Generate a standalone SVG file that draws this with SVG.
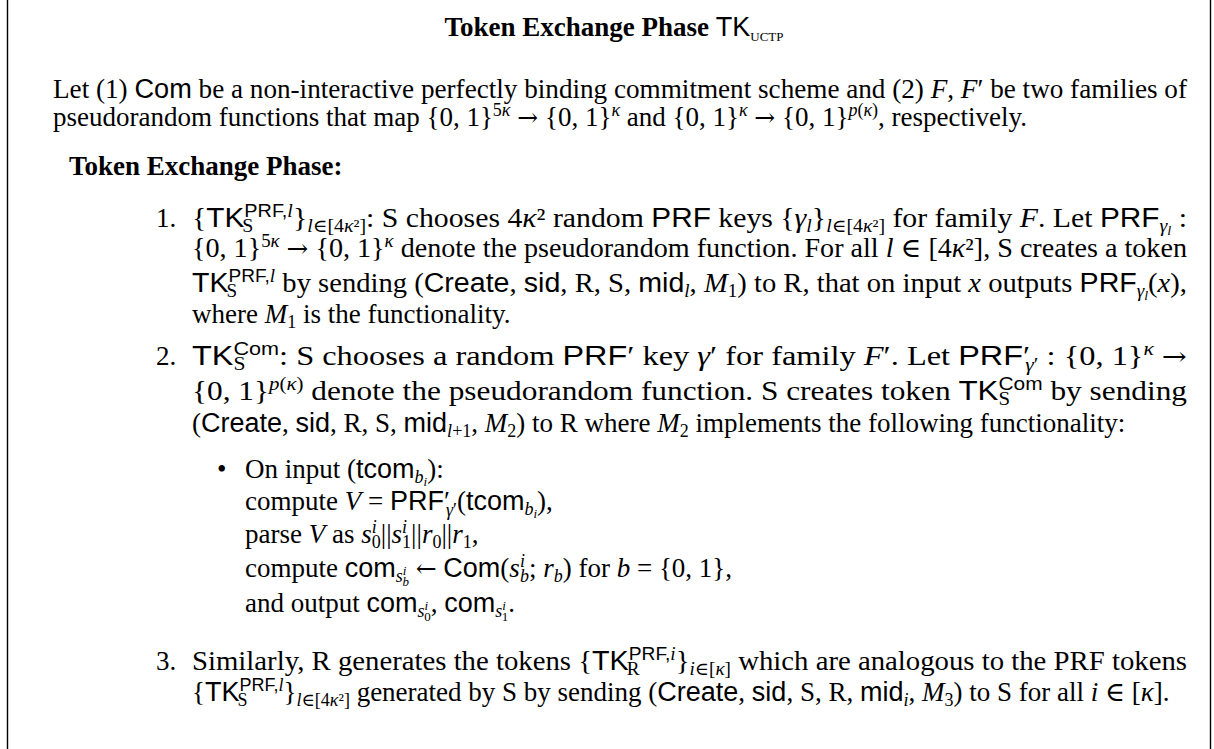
<svg xmlns="http://www.w3.org/2000/svg" width="1214" height="749" viewBox="0 0 1214 749">
  <style>
    .m { font-family: 'Liberation Serif', 'DejaVu Serif', serif; font-size: 27px; fill: #000; }
    .sf { font-family: 'Liberation Sans', 'DejaVu Sans', sans-serif; }
    .ar { font-family: 'DejaVu Serif', serif; font-size: 25px; }
    .i { font-style: italic; }
    .s { font-size: 18px; }
    .ss { font-size: 13px; }
    .sc { font-size: 13px; }
    .bd { font-weight: bold; }
    .frame { stroke: #000; stroke-width: 1.4; }
  </style>

  <!-- side rules of the framed box -->
  <g id="frame">
    <line class="frame" x1="7.5" y1="0" x2="7.5" y2="749"/>
    <line class="frame" x1="1210.5" y1="0" x2="1210.5" y2="749"/>
  </g>

  <g id="title">
    <text class="m" x="614" y="36" text-anchor="middle"><tspan class="bd">Token Exchange Phase</tspan> <tspan class="sf">TK</tspan><tspan class="sc" dy="5">UCTP</tspan></text>
  </g>

  <g id="intro">
    <text class="m" x="53" y="98" textLength="1134" lengthAdjust="spacingAndGlyphs">Let (1) <tspan class="sf">Com</tspan> be a non-interactive perfectly binding commitment scheme and (2) <tspan class="i">F</tspan>, <tspan class="i">F</tspan>′ be two families of</text>
    <text class="m" x="53" y="126">pseudorandom functions that map {0, 1}<tspan class="s" dy="-10">5<tspan class="i">κ</tspan></tspan><tspan dy="10"> <tspan class="ar">→</tspan> {0, 1}</tspan><tspan class="s i" dy="-10">κ</tspan><tspan dy="10"> and {0, 1}</tspan><tspan class="s i" dy="-10">κ</tspan><tspan dy="10"> <tspan class="ar">→</tspan> {0, 1}</tspan><tspan class="s" dy="-10"><tspan class="i">p</tspan>(<tspan class="i">κ</tspan>)</tspan><tspan dy="10">, respectively.</tspan></text>
  </g>

  <g id="heading">
    <text class="m bd" x="69" y="175">Token Exchange Phase:</text>
  </g>

  <!-- step 1: PRF tokens created by S -->
  <g id="item1">
    <text class="m" x="156" y="227">1.</text>
    <text class="m" x="192" y="227" textLength="995" lengthAdjust="spacingAndGlyphs">{<tspan class="sf">TK</tspan><tspan class="s" dy="-10"><tspan class="sf">PRF,</tspan><tspan class="i">l</tspan></tspan><tspan class="s" dx="-46" dy="15">S</tspan><tspan dx="36" dy="-5">}</tspan><tspan class="s" dy="5"><tspan class="i">l</tspan>∈[4<tspan class="i">κ</tspan>²]</tspan><tspan dy="-5">: S chooses 4<tspan class="i">κ</tspan>² random <tspan class="sf">PRF</tspan> keys {<tspan class="i">γ</tspan></tspan><tspan class="s i" dy="5">l</tspan><tspan dy="-5">}</tspan><tspan class="s" dy="5"><tspan class="i">l</tspan>∈[4<tspan class="i">κ</tspan>²]</tspan><tspan dy="-5"> for family <tspan class="i">F</tspan>. Let <tspan class="sf">PRF</tspan></tspan><tspan class="s i" dy="5">γ</tspan><tspan class="ss i" dy="3">l</tspan><tspan dy="-8"> :</tspan></text>
    <text class="m" x="192" y="257" textLength="995" lengthAdjust="spacingAndGlyphs">{0, 1}<tspan class="s" dy="-10">5<tspan class="i">κ</tspan></tspan><tspan dy="10"> <tspan class="ar">→</tspan> {0, 1}</tspan><tspan class="s i" dy="-10">κ</tspan><tspan dy="10"> denote the pseudorandom function. For all <tspan class="i">l</tspan> ∈ [4<tspan class="i">κ</tspan>²], S creates a token</tspan></text>
    <text class="m" x="192" y="292" textLength="995" lengthAdjust="spacingAndGlyphs"><tspan class="sf">TK</tspan><tspan class="s" dy="-10"><tspan class="sf">PRF,</tspan><tspan class="i">l</tspan></tspan><tspan class="s" dx="-46" dy="15">S</tspan><tspan dx="36" dy="-5"> by sending (<tspan class="sf">Create</tspan>, <tspan class="sf">sid</tspan>, R, S, <tspan class="sf">mid</tspan></tspan><tspan class="s i" dy="5">l</tspan><tspan dy="-5">, <tspan class="i">M</tspan></tspan><tspan class="s" dy="5">1</tspan><tspan dy="-5">) to R, that on input <tspan class="i">x</tspan> outputs <tspan class="sf">PRF</tspan></tspan><tspan class="s i" dy="5">γ</tspan><tspan class="ss i" dy="3">l</tspan><tspan dy="-8">(<tspan class="i">x</tspan>),</tspan></text>
    <text class="m" x="192" y="323">where <tspan class="i">M</tspan><tspan class="s" dy="5">1</tspan><tspan dy="-5"> is the functionality.</tspan></text>
  </g>

  <!-- step 2: commitment token -->
  <g id="item2">
    <text class="m" x="156" y="365">2.</text>
    <text class="m" x="192" y="365" textLength="995" lengthAdjust="spacingAndGlyphs"><tspan class="sf">TK</tspan><tspan class="s sf" dy="-10">Com</tspan><tspan class="s" dx="-38" dy="15">S</tspan><tspan dx="28" dy="-5">:  S chooses a random <tspan class="sf">PRF</tspan>′ key <tspan class="i">γ</tspan>′ for family <tspan class="i">F</tspan>′.  Let <tspan class="sf">PRF</tspan>′</tspan><tspan class="s" dx="-4" dy="6"><tspan class="i">γ</tspan>′</tspan><tspan dy="-6"> : {0, 1}</tspan><tspan class="s i" dy="-10">κ</tspan><tspan dy="10"> <tspan class="ar">→</tspan></tspan></text>
    <text class="m" x="192" y="400" textLength="995" lengthAdjust="spacingAndGlyphs">{0, 1}<tspan class="s" dy="-10"><tspan class="i">p</tspan>(<tspan class="i">κ</tspan>)</tspan><tspan dy="10"> denote the pseudorandom function.  S creates token <tspan class="sf">TK</tspan></tspan><tspan class="s sf" dy="-10">Com</tspan><tspan class="s" dx="-38" dy="15">S</tspan><tspan dx="28" dy="-5"> by sending</tspan></text>
    <text class="m" x="192" y="432">(<tspan class="sf">Create</tspan>, <tspan class="sf">sid</tspan>, R, S, <tspan class="sf">mid</tspan><tspan class="s" dy="5"><tspan class="i">l</tspan>+1</tspan><tspan dy="-5">, <tspan class="i">M</tspan></tspan><tspan class="s" dy="5">2</tspan><tspan dy="-5">) to R where <tspan class="i">M</tspan></tspan><tspan class="s" dy="5">2</tspan><tspan dy="-5"> implements the following functionality:</tspan></text>
  </g>

  <!-- functionality M2 -->
  <g id="bullet">
    <text class="m" x="217" y="478">•</text>
    <text class="m" x="245" y="478">On input (<tspan class="sf">tcom</tspan><tspan class="s i" dy="5">b</tspan><tspan class="ss i" dy="3">i</tspan><tspan dy="-8">):</tspan></text>
    <text class="m" x="245" y="510">compute <tspan class="i">V</tspan> = <tspan class="sf">PRF</tspan>′<tspan class="s" dx="-4" dy="6"><tspan class="i">γ</tspan>′</tspan><tspan dy="-6">(<tspan class="sf">tcom</tspan></tspan><tspan class="s i" dy="5">b</tspan><tspan class="ss i" dy="3">i</tspan><tspan dy="-8">),</tspan></text>
    <text class="m" x="245" y="543">parse <tspan class="i">V</tspan> as <tspan class="i">s</tspan><tspan class="s i" dy="-10">i</tspan><tspan class="s" dx="-5" dy="15">0</tspan><tspan dy="-5">||<tspan class="i">s</tspan></tspan><tspan class="s i" dy="-10">i</tspan><tspan class="s" dx="-5" dy="15">1</tspan><tspan dy="-5">||<tspan class="i">r</tspan></tspan><tspan class="s" dy="5">0</tspan><tspan dy="-5">||<tspan class="i">r</tspan></tspan><tspan class="s" dy="5">1</tspan><tspan dy="-5">,</tspan></text>
    <text class="m" x="245" y="577">compute <tspan class="sf">com</tspan><tspan class="s i" dy="5">s</tspan><tspan class="ss i" dy="-7">i</tspan><tspan class="ss i" dx="-4" dy="11">b</tspan><tspan dy="-9"> <tspan class="ar">←</tspan> <tspan class="sf">Com</tspan>(<tspan class="i">s</tspan></tspan><tspan class="s i" dy="-10">i</tspan><tspan class="s i" dx="-5" dy="15">b</tspan><tspan dy="-5">; <tspan class="i">r</tspan></tspan><tspan class="s i" dy="5">b</tspan><tspan dy="-5">) for <tspan class="i">b</tspan> = {0, 1},</tspan></text>
    <text class="m" x="245" y="612">and output <tspan class="sf">com</tspan><tspan class="s i" dy="5">s</tspan><tspan class="ss i" dy="-7">i</tspan><tspan class="ss" dx="-4" dy="11">0</tspan><tspan dy="-9">, <tspan class="sf">com</tspan></tspan><tspan class="s i" dy="5">s</tspan><tspan class="ss i" dy="-7">i</tspan><tspan class="ss" dx="-4" dy="11">1</tspan><tspan dy="-9">.</tspan></text>
  </g>

  <!-- step 3: tokens created by R -->
  <g id="item3">
    <text class="m" x="156" y="670">3.</text>
    <text class="m" x="192" y="670" textLength="995" lengthAdjust="spacingAndGlyphs">Similarly, R generates the tokens {<tspan class="sf">TK</tspan><tspan class="s" dy="-10"><tspan class="sf">PRF,</tspan><tspan class="i">i</tspan></tspan><tspan class="s" dx="-46" dy="15">R</tspan><tspan dx="34" dy="-5">}</tspan><tspan class="s" dy="5"><tspan class="i">i</tspan>∈[<tspan class="i">κ</tspan>]</tspan><tspan dy="-5"> which are analogous to the PRF tokens</tspan></text>
    <text class="m" x="192" y="701">{<tspan class="sf">TK</tspan><tspan class="s" dy="-10"><tspan class="sf">PRF,</tspan><tspan class="i">l</tspan></tspan><tspan class="s" dx="-46" dy="15">S</tspan><tspan dx="36" dy="-5">}</tspan><tspan class="s" dy="5"><tspan class="i">l</tspan>∈[4<tspan class="i">κ</tspan>²]</tspan><tspan dy="-5"> generated by S by sending (<tspan class="sf">Create</tspan>, <tspan class="sf">sid</tspan>, S, R, <tspan class="sf">mid</tspan></tspan><tspan class="s i" dy="5">i</tspan><tspan dy="-5">, <tspan class="i">M</tspan></tspan><tspan class="s" dy="5">3</tspan><tspan dy="-5">) to S for all <tspan class="i">i</tspan> ∈ [<tspan class="i">κ</tspan>].</tspan></text>
  </g>
</svg>
